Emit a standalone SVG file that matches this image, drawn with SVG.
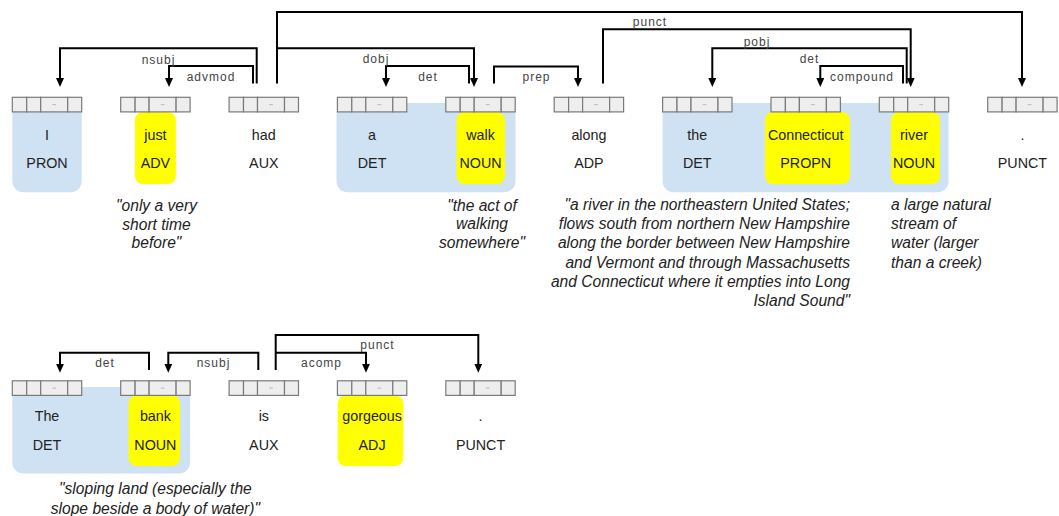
<svg xmlns="http://www.w3.org/2000/svg" xmlns:xlink="http://www.w3.org/1999/xlink" width="1059" height="516" viewBox="0 0 1059 516">
  <style>
    .cell { fill: #eeeeee; stroke: #7a7a7a; stroke-width: 1.2; }
    .dash { stroke: #bbbbbb; stroke-width: 1; }
    .chunk { fill: #cfe2f3; }
    .hl { fill: #ffff00; }
    .word, .pos { font-family: "Liberation Sans", Arial, sans-serif; font-size: 14.3px; fill: #222; text-anchor: middle; }
    .def { font-family: "Liberation Sans", Arial, sans-serif; font-size: 15.6px; font-style: italic; fill: #222; }
    .arc { fill: none; stroke: #000; stroke-width: 2; marker-end: url(#head); }
    .lbl { font-family: "Liberation Sans", Arial, sans-serif; font-size: 12px; letter-spacing: 1px; fill: #444; text-anchor: middle; }
  </style>
  <defs>
    <marker id="head" markerUnits="userSpaceOnUse" viewBox="0 0 9 8" markerWidth="9" markerHeight="8" refX="4" refY="4" orient="auto">
      <path d="M0,0 L9,4 L0,8 z" fill="#000"/>
    </marker>
    <!-- four-cell annotation strip drawn above each token -->
    <g id="strip">
      <rect class="cell" x="0" y="0" width="14.4" height="14.6"/>
      <rect class="cell" x="14.4" y="0" width="14" height="14.6"/>
      <rect class="cell" x="28.4" y="0" width="27" height="14.6"/>
      <rect class="cell" x="55.4" y="0" width="14" height="14.6"/>
      <line class="dash" x1="40" y1="7.3" x2="43.8" y2="7.3"/>
    </g>
  </defs>

  <rect width="1059" height="516" fill="#ffffff"/>

  <!-- noun chunks -->
  <g id="chunks">
    <rect class="chunk" x="12.3" y="103" width="69.4" height="89.3" rx="11"/>
    <rect class="chunk" x="336.5" y="103" width="179" height="89.3" rx="11"/>
    <rect class="chunk" x="662.6" y="103" width="286" height="89.3" rx="11"/>
    <rect class="chunk" x="12.3" y="387" width="177.8" height="86.5" rx="11"/>
  </g>

  <!-- sentence 1 tokens -->
  <g id="tok-I">
    <use xlink:href="#strip" x="12.3" y="97.3"/>
    <text class="word" x="47" y="139.6">I</text>
    <text class="pos" x="47" y="168.4">PRON</text>
  </g>
  <g id="tok-just">
    <rect class="hl" x="134.9" y="112" width="41" height="72" rx="8"/>
    <use xlink:href="#strip" x="120.7" y="97.3"/>
    <text class="word" x="155.4" y="139.6">just</text>
    <text class="pos" x="155.4" y="168.4">ADV</text>
    <text class="def" text-anchor="middle" x="156.5"><tspan x="156.5" y="210.5">"only a very</tspan><tspan x="156.5" y="229.5">short time</tspan><tspan x="156.5" y="248">before"</tspan></text>
  </g>
  <g id="tok-had">
    <use xlink:href="#strip" x="229.1" y="97.3"/>
    <text class="word" x="263.8" y="139.6">had</text>
    <text class="pos" x="263.8" y="168.4">AUX</text>
  </g>
  <g id="tok-a">
    <use xlink:href="#strip" x="337.4" y="97.3"/>
    <text class="word" x="372.1" y="139.6">a</text>
    <text class="pos" x="372.1" y="168.4">DET</text>
  </g>
  <g id="tok-walk">
    <rect class="hl" x="456.5" y="112" width="48.5" height="72" rx="8"/>
    <use xlink:href="#strip" x="445.8" y="97.3"/>
    <text class="word" x="480.5" y="139.6">walk</text>
    <text class="pos" x="480.5" y="168.4">NOUN</text>
    <text class="def" text-anchor="middle" x="482"><tspan x="482" y="210.5">"the act of</tspan><tspan x="482" y="229">walking</tspan><tspan x="482" y="247.8">somewhere"</tspan></text>
  </g>
  <g id="tok-along">
    <use xlink:href="#strip" x="554.2" y="97.3"/>
    <text class="word" x="588.9" y="139.6">along</text>
    <text class="pos" x="588.9" y="168.4">ADP</text>
  </g>
  <g id="tok-the">
    <use xlink:href="#strip" x="662.6" y="97.3"/>
    <text class="word" x="697.3" y="139.6">the</text>
    <text class="pos" x="697.3" y="168.4">DET</text>
  </g>
  <g id="tok-Connecticut">
    <rect class="hl" x="765" y="112" width="85" height="72" rx="8"/>
    <use xlink:href="#strip" x="771" y="97.3"/>
    <text class="word" x="805.7" y="139.6">Connecticut</text>
    <text class="pos" x="805.7" y="168.4">PROPN</text>
    <text class="def" text-anchor="end" x="850"><tspan x="850" y="210">"a river in the northeastern United States;</tspan><tspan x="850" y="229.2">flows south from northern New Hampshire</tspan><tspan x="850" y="248.4">along the border between New Hampshire</tspan><tspan x="850" y="267.6">and Vermont and through Massachusetts</tspan><tspan x="850" y="286.8">and Connecticut where it empties into Long</tspan><tspan x="850" y="306">Island Sound"</tspan></text>
  </g>
  <g id="tok-river">
    <rect class="hl" x="891" y="112" width="49" height="72" rx="8"/>
    <use xlink:href="#strip" x="879.3" y="97.3"/>
    <text class="word" x="914" y="139.6">river</text>
    <text class="pos" x="914" y="168.4">NOUN</text>
    <text class="def" x="891"><tspan x="891" y="210">a large natural</tspan><tspan x="891" y="229.2">stream of</tspan><tspan x="891" y="248.4">water (larger</tspan><tspan x="891" y="267.6">than a creek)</tspan></text>
  </g>
  <g id="tok-period1">
    <use xlink:href="#strip" x="987.7" y="97.3"/>
    <text class="word" x="1022.4" y="139.6">.</text>
    <text class="pos" x="1022.4" y="168.4">PUNCT</text>
  </g>

  <!-- sentence 2 tokens -->
  <g id="tok-The">
    <use xlink:href="#strip" x="12.3" y="380.8"/>
    <text class="word" x="47" y="421">The</text>
    <text class="pos" x="47" y="449.5">DET</text>
  </g>
  <g id="tok-bank">
    <rect class="hl" x="128.5" y="395.5" width="51.5" height="70.5" rx="8"/>
    <use xlink:href="#strip" x="120.7" y="380.8"/>
    <text class="word" x="155.4" y="421">bank</text>
    <text class="pos" x="155.4" y="449.5">NOUN</text>
    <text class="def" text-anchor="middle" x="155.4"><tspan x="155.4" y="493.8">"sloping land (especially the</tspan><tspan x="155.4" y="513.6">slope beside a body of water)"</tspan></text>
  </g>
  <g id="tok-is">
    <use xlink:href="#strip" x="229.1" y="380.8"/>
    <text class="word" x="263.8" y="421">is</text>
    <text class="pos" x="263.8" y="449.5">AUX</text>
  </g>
  <g id="tok-gorgeous">
    <rect class="hl" x="337.7" y="395.5" width="65.6" height="70.5" rx="8"/>
    <use xlink:href="#strip" x="337.4" y="380.8"/>
    <text class="word" x="372.1" y="421">gorgeous</text>
    <text class="pos" x="372.1" y="449.5">ADJ</text>
  </g>
  <g id="tok-period2">
    <use xlink:href="#strip" x="445.8" y="380.8"/>
    <text class="word" x="480.5" y="421">.</text>
    <text class="pos" x="480.5" y="449.5">PUNCT</text>
  </g>

  <!-- dependency arcs -->
  <g id="connectors">
    <path class="arc" d="M277,83.5 V12 H1022 V82"/>
    <path class="arc" d="M256.7,83.5 V48.3 H60 V82"/>
    <path class="arc" d="M253,83.5 V66 H169 V82"/>
    <path class="arc" d="M277,48.3 H474 V82"/>
    <path class="arc" d="M469,83.5 V66 H386 V82"/>
    <path class="arc" d="M494,83.5 V66.5 H578 V82"/>
    <path class="arc" d="M603,83.5 V29.3 H910.7 V82"/>
    <path class="arc" d="M906.7,83.5 V48.3 H712.3 V82"/>
    <path class="arc" d="M903,83.5 V66 H820.3 V82"/>

    <path class="arc" d="M149,370 V352.7 H60 V367.7"/>
    <path class="arc" d="M258.3,370 V352.7 H168.3 V367.7"/>
    <path class="arc" d="M275.7,370 V335 H478.3 V367.7"/>
    <path class="arc" d="M275.7,352.7 H366 V367.7"/>

    <text class="lbl" x="650" y="26">punct</text>
    <text class="lbl" x="158.5" y="64">nsubj</text>
    <text class="lbl" x="211" y="81">advmod</text>
    <text class="lbl" x="376" y="63">dobj</text>
    <text class="lbl" x="428" y="81">det</text>
    <text class="lbl" x="536.5" y="81">prep</text>
    <text class="lbl" x="757" y="45.5">pobj</text>
    <text class="lbl" x="809.5" y="63">det</text>
    <text class="lbl" x="862" y="81">compound</text>

    <text class="lbl" x="105" y="367">det</text>
    <text class="lbl" x="213.5" y="367">nsubj</text>
    <text class="lbl" x="377.5" y="349">punct</text>
    <text class="lbl" x="321.5" y="367">acomp</text>
  </g>
</svg>
